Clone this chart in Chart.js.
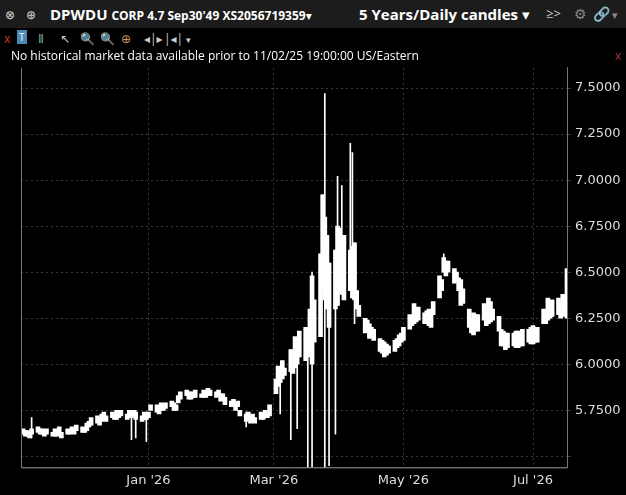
<!DOCTYPE html>
<html>
<head>
<meta charset="utf-8">
<script src="https://cdn.jsdelivr.net/npm/chart.js@4/dist/chart.umd.min.js"></script>
<style>
  body { margin:0; background:#000; width:626px; height:495px; overflow:hidden; font-family:"Open Sans","DejaVu Sans",sans-serif; color:#fff; }
  #top { height:28px; background:#1c1c1c; position:relative; white-space:nowrap; }
  #top span { position:absolute; top:4px; font-weight:bold; }
  #bar2 { height:20px; position:relative; font-size:12px; }
  #bar2 span { position:absolute; top:2px; }
  #note { height:16px; font-size:12px; padding-left:11px; position:relative; line-height:16px; z-index:2; }
  #wrap { position:absolute; top:56px; left:0; width:626px; height:439px; }
</style>
</head>
<body>
<div id="top">
  <span style="left:5px;top:6px;color:#bbb;font-size:12px">&#x2297;</span>
  <span style="left:26px;top:6px;color:#bbb;font-size:12px">&#x2295;</span>
  <span style="left:50px;font-size:15px">DPWDU <span style="position:static;font-size:12px">CORP 4.7 Sep30'49 XS2056719359&#x25BE;</span></span>
  <span style="left:359px;font-size:15px">5 Years/Daily candles &#x25BE;</span>
  <span style="left:546px;color:#ccc;font-size:13px;font-weight:normal">&ge;&gt;</span>
  <span style="left:574px;color:#888;font-size:14px">&#x2699;</span>
  <span style="left:593px;color:#5c5;font-size:14px">&#x1F517;</span>
  <span style="left:612px;color:#888;font-size:11px;top:7px">&#x25BE;</span>
</div>
<div id="bar2">
  <span style="left:4px;color:#c33">x</span>
  <span style="left:17px;background:#4a8ab5;color:#fff;font-size:10px;padding:0 2px">T</span>
  <span style="left:38px;color:#7a9">&#x2161;</span>
  <span style="left:60px;color:#ccc">&#x2196;</span>
  <span style="left:80px;color:#ccc">&#x1F50D;</span>
  <span style="left:100px;color:#ccc">&#x1F50D;</span>
  <span style="left:121px;color:#c96">&#x2295;</span>
  <span style="left:144px;color:#ccc">&#x25C2;|&#x25B8;</span>
  <span style="left:164px;color:#ccc">|&#x25C2;|</span>
  <span style="left:186px;color:#ccc;font-size:9px;top:5px">&#x25BE;</span>
</div>
<div id="note">No historical market data available prior to 11/02/25 19:00:00 US/Eastern
  <span style="position:absolute;left:615px;color:#a33">x</span></div>
<div id="wrap"><canvas id="c"></canvas></div>
<script>
// daily candles, one per weekday starting Mon 3 Nov 2025
const startDate = '2025-11-03';
const opens = [
  5.62,5.64,5.61,5.63,5.62, 5.63,5.65,5.62,5.64,5.62, 5.63,5.61,5.64,5.62,5.63, 5.62,5.64,5.63,5.65,5.64,
  5.63,5.65,5.64,5.66,5.67, 5.68,5.70,5.69,5.71,5.72, 5.71,5.73,5.70,5.74,5.72, 5.73,5.71,5.74,5.72,5.70,
  5.72,5.70,5.73,5.71,5.75, 5.74,5.76,5.75,5.77,5.76, 5.77,5.75,5.78,5.79,5.81, 5.83,5.85,5.81,5.84,5.82,
  5.84,5.82,5.85,5.83,5.86, 5.85,5.83,5.84,5.81,5.82, 5.80,5.78,5.79,5.77,5.75, 5.73,5.70,5.72,5.69,5.71,
  5.70,5.72,5.71,5.73,5.72, 5.84,5.88,5.96,5.92,5.98, 5.96,6.05,5.98,6.12,6.04, 6.02,6.14,6.06,6.00,6.35,
  6.15,6.40,6.80,6.30,6.55, 6.30,6.75,6.40,6.68,6.35, 6.62,6.36,6.66,6.40,6.32, 6.25,6.18,6.22,6.15,6.19,
  6.14,6.06,6.12,6.05,6.10, 6.07,6.14,6.10,6.17,6.13, 6.19,6.26,6.22,6.30,6.24, 6.28,6.22,6.30,6.20,6.27,
  6.36,6.46,6.50,6.56,6.50, 6.52,6.45,6.40,6.46,6.33, 6.30,6.25,6.16,6.27,6.18, 6.24,6.30,6.22,6.34,6.24,
  6.26,6.19,6.10,6.17,6.09, 6.10,6.18,6.09,6.17,6.10, 6.12,6.20,6.11,6.19,6.12, 6.22,6.28,6.24,6.34,6.26,
  6.27,6.34,6.26,6.36,6.25
];
const closes = [
  5.65,5.61,5.64,5.60,5.65, 5.66,5.62,5.65,5.61,5.65, 5.61,5.65,5.61,5.66,5.60, 5.65,5.62,5.66,5.62,5.67,
  5.66,5.63,5.68,5.69,5.71, 5.72,5.67,5.73,5.74,5.69, 5.74,5.70,5.75,5.71,5.75, 5.70,5.75,5.71,5.75,5.74,
  5.69,5.74,5.70,5.74,5.78, 5.78,5.73,5.79,5.75,5.79, 5.80,5.79,5.75,5.83,5.85, 5.86,5.81,5.85,5.82,5.86,
  5.82,5.86,5.82,5.87,5.83, 5.82,5.86,5.80,5.84,5.78, 5.77,5.81,5.75,5.80,5.72, 5.69,5.74,5.68,5.73,5.68,
  5.74,5.70,5.75,5.71,5.78, 5.92,5.99,5.90,6.02,5.94, 6.08,5.95,6.15,6.00,6.18, 6.20,6.04,6.30,6.48,6.12,
  6.60,6.92,6.35,6.70,6.20, 6.62,6.32,6.74,6.38,6.70, 6.40,6.64,6.35,6.30,6.26, 6.17,6.24,6.14,6.20,6.13,
  6.07,6.13,6.04,6.11,6.06, 6.13,6.09,6.16,6.12,6.20, 6.27,6.21,6.33,6.23,6.31, 6.22,6.29,6.21,6.28,6.34,
  6.48,6.40,6.58,6.48,6.56, 6.44,6.50,6.47,6.32,6.41, 6.20,6.17,6.28,6.18,6.27, 6.33,6.21,6.36,6.23,6.30,
  6.18,6.10,6.18,6.08,6.17, 6.17,6.09,6.18,6.10,6.19, 6.19,6.11,6.21,6.12,6.20, 6.30,6.22,6.36,6.25,6.35,
  6.36,6.25,6.38,6.27,6.52
];
// wicks that reach beyond the body: [date, low, high]
const wicks = [
  ['2025-11-07', 5.60, 5.71], ['2025-12-24', 5.59, 5.75], ['2025-12-26', 5.60, 5.75],
  ['2025-12-31', 5.58, 5.74], ['2026-02-16', 5.66, 5.74], ['2026-03-04', 5.73, 5.99],
  ['2026-03-09', 5.59, 6.08], ['2026-03-12', 5.65, 6.12], ['2026-03-17', 5.40, 6.14],
  ['2026-03-19', 5.40, 6.50], ['2026-03-24', 6.40, 6.92], ['2026-03-25', 5.40, 7.47],
  ['2026-03-27', 5.45, 6.55], ['2026-03-30', 5.62, 6.62], ['2026-03-31', 6.32, 7.02],
  ['2026-04-02', 6.38, 6.97], ['2026-04-06', 6.40, 7.20], ['2026-04-07', 6.36, 7.15],
  ['2026-04-08', 6.22, 6.66], ['2026-05-20', 6.50, 6.60]
];
const monthTicks = [0, 59, 120, 181];
const monthLabels = ["Jan '26", "Mar '26", "May '26", "Jul '26"];
const yTicks = [5.5, 5.75, 6.0, 6.25, 6.5, 6.75, 7.0, 7.25, 7.5];

const DAY = 86400000;
const jan1 = Date.UTC(2026, 0, 1);
function dayNum(s) { return Math.round((Date.parse(s + 'T00:00:00Z') - jan1) / DAY); }

let days = [];
let t = Date.parse(startDate + 'T00:00:00Z');
while (days.length < opens.length) {
  let wd = new Date(t).getUTCDay();
  if (wd != 0 && wd != 6) days.push(Math.round((t - jan1) / DAY));
  t += DAY;
}

let bodies = [], lines = [];
days.map((d, i) => {
  let lo = Math.min(opens[i], closes[i]), hi = Math.max(opens[i], closes[i]);
  bodies.push({x: d, y: [lo, hi]});
});
wicks.map(w => lines.push({x: dayNum(w[0]), y: [w[1], w[2]]}));

const gridCol = '#3a3a3a';
new Chart(document.getElementById('c'), {
  type: 'bar',
  data: {
    datasets: [
      { data: lines, backgroundColor: '#fff', barThickness: 1, grouped: false },
      { data: bodies, backgroundColor: '#fff', barThickness: 4, grouped: false }
    ]
  },
  options: {
    responsive: true,
    maintainAspectRatio: false,
    animation: false,
    layout: { padding: { left: 21, top: 0, right: 0, bottom: 2 } },
    plugins: { legend: { display: false }, tooltip: { enabled: false } },
    scales: {
      x: {
        type: 'linear', min: -60, max: 197, offset: false,
        afterBuildTicks: a => { a.ticks = monthTicks.map(v => ({value: v})); },
        ticks: { color: '#ddd', font: { size: 13, family: 'DejaVu Sans' }, padding: 5, maxRotation: 0,
                 callback: v => monthLabels[monthTicks.indexOf(v)] },
        grid: { color: gridCol, tickLength: 0, offset: false },
        border: { color: '#666', dash: [2, 3] }
      },
      y: {
        position: 'right', min: 5.44, max: 7.61,
        afterBuildTicks: a => { a.ticks = yTicks.map(v => ({value: v})); },
        afterFit: a => { a.width = 59; },
        ticks: { color: '#ddd', font: { size: 13, family: 'DejaVu Sans' }, padding: 4,
                 callback: v => v < 5.6 ? '' : v.toFixed(4) },
        grid: { color: gridCol, tickLength: 4 },
        border: { color: '#666', dash: [2, 3] }
      }
    }
  },
  plugins: [{
    id: 'frame',
    afterDraw(ch) {
      const c = ch.ctx, a = ch.chartArea;
      c.save();
      c.strokeStyle = '#777'; c.lineWidth = 1; c.setLineDash([]);
      c.beginPath();
      c.moveTo(a.left + 0.5, a.top); c.lineTo(a.left + 0.5, a.bottom + 0.5);
      c.lineTo(a.right + 0.5, a.bottom + 0.5); c.lineTo(a.right + 0.5, a.top);
      c.stroke();
      c.restore();
    }
  }]
});
</script>
</body>
</html>
